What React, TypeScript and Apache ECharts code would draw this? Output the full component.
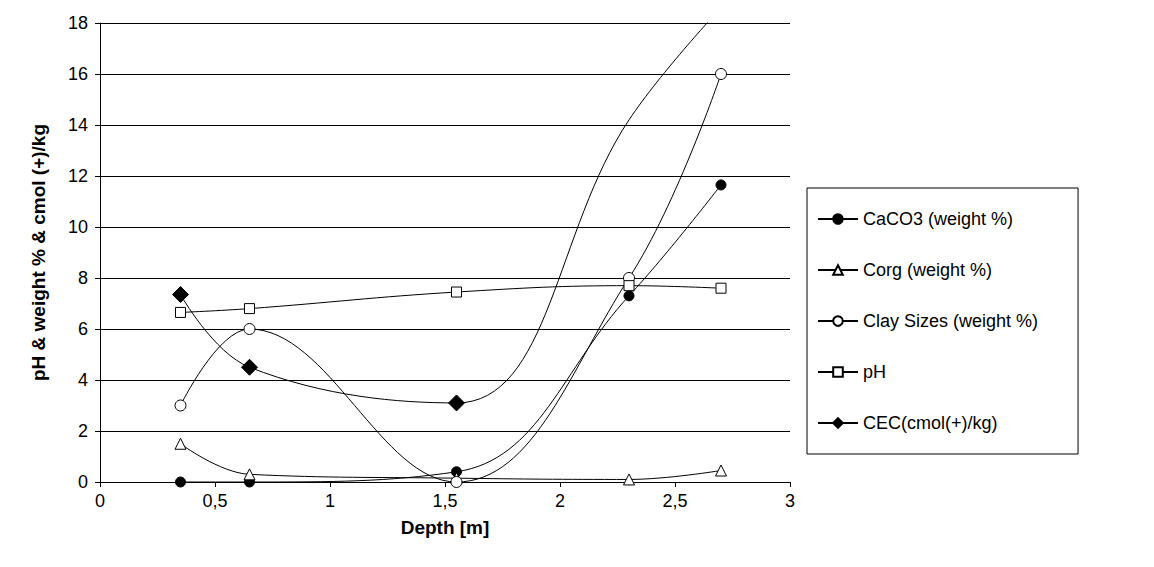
import React, { useEffect, useRef } from "react";
import * as echarts from "echarts";

const depth = [0.35, 0.65, 1.55, 2.3, 2.7];
const caco3 = [0, 0, 0.4, 7.3, 11.65];
const corg = [1.5, 0.3, 0.15, 0.1, 0.45];
const clay = [3, 6, 0, 8, 16];
const ph = [6.65, 6.8, 7.45, 7.7, 7.6];
const cec = [7.35, 4.5, 3.1, 14.2, 18.6];
const names = ["CaCO3 (weight %)", "Corg (weight %)", "Clay Sizes (weight %)", "pH", "CEC(cmol(+)/kg)"];

export default function App() {
  const ref = useRef<HTMLDivElement>(null);
  useEffect(() => {
    const chart = echarts.init(ref.current!, null, { renderer: "svg" });
    const mk = (name: string, vals: number[], symbol: string, fill: string, size: number, hideFrom = 99) => ({
      name,
      type: "line",
      smooth: 0.4,
      data: vals.map((v, i) => (i >= hideFrom ? { value: [depth[i], v], symbolSize: 0 } : [depth[i], v])),
      symbol,
      symbolSize: size,
      showAllSymbol: true,
      lineStyle: { color: "#000", width: 1 },
      itemStyle: { color: fill, borderColor: "#000", borderWidth: 1 },
    });
    chart.setOption({
      animation: false,
      textStyle: { fontFamily: "Liberation Sans, Arial, sans-serif", color: "#000" },
      grid: { left: 92, top: 15, right: 356, bottom: 77, containLabel: false },
      xAxis: {
        type: "value", min: 0, max: 3, interval: 0.5,
        name: "Depth [m]", nameLocation: "middle", nameGap: 36,
        nameTextStyle: { fontWeight: "bold", fontSize: 19, color: "#000" },
        axisLine: { lineStyle: { color: "#000" } },
        axisTick: { show: true, lineStyle: { color: "#000" } },
        axisLabel: { fontSize: 18, color: "#000", margin: 10, formatter: (v: number) => String(v).replace(".", ",") },
        splitLine: { show: false },
      },
      yAxis: {
        type: "value", min: 0, max: 18, interval: 2,
        name: "pH & weight % & cmol (+)/kg", nameLocation: "middle", nameGap: 52,
        nameTextStyle: { fontWeight: "bold", fontSize: 19, color: "#000" },
        axisLine: { show: true, lineStyle: { color: "#000" } },
        axisTick: { show: true, lineStyle: { color: "#000" } },
        axisLabel: { fontSize: 18, color: "#000", margin: 12 },
        splitLine: { lineStyle: { color: "#000" } },
      },
      legend: {
        orient: "vertical", left: 799, top: 180, width: 380, height: 277,
        padding: [22, 40, 22, 10], itemGap: 33, itemWidth: 40, itemHeight: 12,
        borderColor: "#000", borderWidth: 1,
        textStyle: { fontSize: 18, color: "#000" },
        data: names,
      },
      series: [
        mk(names[0], caco3, "circle", "#000", 10),
        mk(names[1], corg, "triangle", "#fff", 11),
        mk(names[2], clay, "circle", "#fff", 11),
        mk(names[3], ph, "rect", "#fff", 10),
        mk(names[4], cec, "diamond", "#000", 16, 3),
      ],
    });
    return () => chart.dispose();
  }, []);
  return <div ref={ref} style={{ width: 1138, height: 551 }} />;
}
